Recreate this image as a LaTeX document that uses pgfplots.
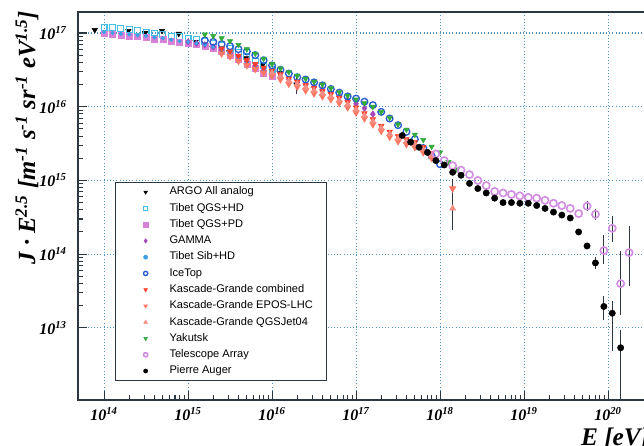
\documentclass[border=0pt]{standalone}
\usepackage{pgfplots}
\pgfplotsset{compat=1.18}
\usepackage{fontspec}
\setmainfont{Liberation Serif}
\newfontfamily\legfont{Liberation Sans}

\definecolor{axisgray}{RGB}{45,55,65}
\definecolor{gridblue}{RGB}{80,145,190}
\definecolor{tibhd}{RGB}{70,190,230}
\definecolor{tibpd}{RGB}{215,130,215}
\definecolor{gammac}{RGB}{165,70,185}
\definecolor{tibsib}{RGB}{60,160,230}
\definecolor{icetop}{RGB}{40,90,210}
\definecolor{kgcomb}{RGB}{255,60,40}
\definecolor{kgepos}{RGB}{255,120,100}
\definecolor{kgqgs}{RGB}{245,140,130}
\definecolor{yak}{RGB}{50,170,60}
\definecolor{tac}{RGB}{210,140,225}

\pgfplotsset{
  errs/.style={forget plot, error bars/.cd, y dir=both, y explicit,
      error bar style={axisgray, line width=0.7pt},
      error mark options={axisgray, mark size=1.6pt, line width=0.7pt}},
  argostyle/.style={only marks, mark=triangle*, mark size=2.3pt, black, mark options={rotate=180, line width=0.4pt}},
  eposstyle/.style={only marks, mark=triangle*, mark size=2.8pt, kgepos, mark options={rotate=180, line width=0.4pt}},
  tastyle/.style={only marks, mark=o, mark size=2.7pt, tac, mark options={line width=1.2pt}},
  augerstyle/.style={only marks, mark=*, mark size=2.4pt, black, mark options={line width=0.3pt}},
}

\begin{document}
\begin{tikzpicture}
\begin{axis}[
    at={(0,0)}, anchor=south west,
    scale only axis, width=426pt, height=291pt,
    xmode=log, ymode=log,
    xmin=4.9e13, xmax=2.83e20,
    ymin=1.05e12, ymax=1.93e17,
    xtick={1e14,1e15,1e16,1e17,1e18,1e19,1e20},
    xticklabels={10\textsuperscript{14},10\textsuperscript{15},10\textsuperscript{16},10\textsuperscript{17},10\textsuperscript{18},10\textsuperscript{19},10\textsuperscript{20}},
    ytick={1e13,1e14,1e15,1e16,1e17},
    yticklabels={10\textsuperscript{13},10\textsuperscript{14},10\textsuperscript{15},10\textsuperscript{16},10\textsuperscript{17}},
    xtick pos=left, ytick pos=left, tick align=inside,
    grid=major,
    major grid style={gridblue, dotted, line width=0.8pt},
    axis line style={axisgray, line width=1.2pt},
    tick style={axisgray, line width=0.8pt},
    major tick length=6.5pt, minor tick length=4pt,
    ticklabel style={font=\bfseries\itshape\fontsize{12}{14}\selectfont},
    yticklabel style={xshift=-5pt},
    xticklabel style={yshift=-2pt},
    xlabel={\bfseries\itshape E [eV]},
    xlabel style={at={(axis description cs:1,0)}, anchor=north east, yshift=-17.5pt, xshift=6pt, font=\fontsize{19}{23}\selectfont},
    ylabel={\bfseries\itshape J · E\textsuperscript{2.5} [m\textsuperscript{-1} s\textsuperscript{-1} sr\textsuperscript{-1} eV\textsuperscript{1.5}]},
    ylabel style={at={(axis description cs:-0.090,1.015)}, anchor=east, font=\fontsize{18.5}{22}\selectfont},
    legend cell align=left,
    legend style={
        at={(axis description cs:0.0651,0.5619)}, anchor=north west,
        draw=axisgray, line width=1pt, fill=white,
        font=\legfont\fontsize{8.3}{10}\selectfont,
        inner xsep=20.9pt, inner ysep=1pt, row sep=0pt,
        nodes={inner ysep=2.2pt, text height=6pt, text depth=1.8pt},
        /tikz/every odd column/.append style={column sep=14.3pt},
    },
    legend image post style={mark size=1.6pt},
  ]

  % ARGO
  \addplot[argostyle] coordinates {
      (7.76e13,1.10e17) (1.23e14,1.02e17) (1.95e14,1.07e17) (3.09e14,1.00e17) (4.90e14,1.07e17)
      (7.76e14,9.77e16) (1.23e15,7.59e16) (1.95e15,6.31e16) (3.09e15,5.50e16) (4.90e15,4.57e16)
      (7.76e15,3.72e16) (1.23e16,2.88e16)
    };
  \addlegendentry{ARGO All analog}
  \addplot[argostyle, errs] coordinates {
      (1.95e16,2.00e16) += (0,0.40e16) -= (0,0.42e16)
    };

  % Tibet QGS+HD
  \addplot[only marks, mark=square, mark size=2.2pt, tibhd, mark options={line width=0.8pt}] coordinates {
      (1e14,1.202e17) (1.259e14,1.175e17) (1.585e14,1.148e17) (1.995e14,1.122e17) (2.512e14,1.072e17)
      (3.162e14,1.023e17) (3.981e14,1.000e17) (5.012e14,9.55e16) (6.310e14,9.12e16) (7.943e14,8.91e16)
      (1e15,8.51e16) (1.259e15,8.13e16) (1.585e15,7.76e16) (1.995e15,7.24e16) (2.512e15,6.76e16)
      (3.162e15,6.17e16) (3.981e15,5.50e16) (5.012e15,4.79e16) (6.310e15,4.17e16) (7.943e15,3.63e16)
      (1e16,3.24e16)
    };
  \addlegendentry{Tibet QGS+HD}

  % Tibet QGS+PD
  \addplot[only marks, mark=square*, mark size=2.2pt, tibpd, mark options={line width=0.4pt}] coordinates {
      (1e14,9.77e16) (1.259e14,9.55e16) (1.585e14,9.33e16) (1.995e14,9.12e16) (2.512e14,8.91e16)
      (3.162e14,8.71e16) (3.981e14,8.32e16) (5.012e14,8.13e16) (6.310e14,7.76e16) (7.943e14,7.41e16)
      (1e15,7.24e16) (1.259e15,6.92e16) (1.585e15,6.61e16) (1.995e15,6.17e16) (2.512e15,5.62e16)
      (3.162e15,5.01e16) (3.981e15,4.37e16) (5.012e15,3.80e16) (6.310e15,3.31e16) (7.943e15,2.88e16)
      (1e16,2.57e16)
    };
  \addlegendentry{Tibet QGS+PD}

  % GAMMA
  \addplot[only marks, mark=diamond*, mark size=2.4pt, gammac, mark options={line width=0.4pt}] coordinates {
      (1e15,7.59e16) (1.259e15,7.24e16) (1.585e15,6.92e16) (1.995e15,6.46e16) (2.512e15,5.89e16)
      (3.162e15,5.37e16) (3.981e15,4.79e16) (5.012e15,4.17e16) (6.310e15,3.63e16) (7.943e15,3.16e16)
      (1e16,2.82e16) (1.259e16,2.57e16) (1.585e16,2.34e16) (1.995e16,2.14e16) (2.512e16,2.00e16)
      (3.162e16,1.86e16) (3.981e16,1.70e16) (5.012e16,1.55e16) (6.310e16,1.38e16) (7.943e16,1.23e16)
      (1e17,1.10e16) (1.259e17,9.55e15) (1.585e17,7.94e15)
    };
  \addlegendentry{GAMMA}

  % Tibet Sib+HD
  \addplot[only marks, mark=*, mark size=1.4pt, tibsib, mark options={line width=0.3pt}] coordinates {
      (1e14,1.023e17) (1.259e14,1.000e17) (1.585e14,9.77e16) (1.995e14,9.55e16) (2.512e14,9.33e16)
      (3.162e14,9.12e16) (3.981e14,8.71e16) (5.012e14,8.51e16) (6.310e14,8.13e16) (7.943e14,7.76e16)
      (1e15,7.59e16) (1.259e15,7.24e16) (1.585e15,6.92e16) (1.995e15,6.46e16) (2.512e15,5.89e16)
      (3.162e15,5.25e16) (3.981e15,4.57e16) (5.012e15,3.98e16) (6.310e15,3.47e16) (7.943e15,3.02e16)
      (1e16,2.69e16)
    };
  \addlegendentry{Tibet Sib+HD}

  % IceTop
  \addplot[only marks, mark=o, mark size=2.5pt, icetop, mark options={line width=1pt}] coordinates {
      (1.585e15,7.94e16) (1.995e15,7.59e16) (2.512e15,7.08e16) (3.162e15,6.61e16) (3.981e15,6.03e16)
      (5.012e15,5.62e16) (6.310e15,5.01e16) (7.943e15,4.27e16) (1e16,3.63e16) (1.259e16,3.16e16)
      (1.585e16,2.82e16) (1.995e16,2.51e16) (2.512e16,2.34e16) (3.162e16,2.14e16) (3.981e16,1.95e16)
      (5.012e16,1.74e16) (6.310e16,1.55e16) (7.943e16,1.38e16) (1e17,1.29e16) (1.259e17,1.17e16)
      (1.585e17,1.05e16) (1.995e17,8.51e15) (2.512e17,6.92e15) (3.162e17,5.62e15) (3.981e17,4.57e15)
      (5.012e17,3.63e15) (6.310e17,2.75e15) (7.943e17,2.14e15) (1e18,1.66e15)
    };
  \addlegendentry{IceTop}

  % Kascade-Grande combined
  \addplot[only marks, mark=triangle*, mark size=2.4pt, kgcomb, mark options={rotate=180, line width=0.4pt}] coordinates {
      (2.512e15,6.17e16) (3.162e15,5.62e16) (3.981e15,4.90e16) (5.012e15,4.27e16) (6.310e15,3.80e16)
      (7.943e15,3.39e16) (1e16,3.09e16) (1.259e16,2.75e16) (1.585e16,2.40e16) (1.995e16,2.19e16)
      (2.512e16,1.95e16) (3.162e16,1.78e16) (3.981e16,1.62e16) (5.012e16,1.48e16) (6.310e16,1.32e16)
      (7.943e16,1.15e16) (1e17,9.77e15) (1.259e17,8.13e15) (1.585e17,6.76e15) (1.995e17,5.50e15)
      (2.512e17,4.57e15) (3.162e17,3.98e15) (3.981e17,3.63e15) (5.012e17,3.31e15) (6.310e17,2.82e15)
      (7.943e17,2.34e15)
    };
  \addlegendentry{\makebox[95pt][l]{Kascade-Grande combined}}

  % Kascade-Grande EPOS-LHC
  \addplot[eposstyle] coordinates {
      (2.512e15,5.25e16) (3.162e15,4.79e16) (3.981e15,4.17e16) (5.012e15,3.63e16) (6.310e15,3.24e16)
      (7.943e15,2.88e16) (1e16,2.63e16) (1.259e16,2.34e16) (1.585e16,2.04e16) (1.995e16,1.86e16)
      (2.512e16,1.66e16) (3.162e16,1.51e16) (3.981e16,1.38e16) (5.012e16,1.26e16) (6.310e16,1.12e16)
      (7.943e16,9.77e15) (1e17,8.32e15) (1.259e17,6.92e15) (1.585e17,5.75e15) (1.995e17,4.68e15)
      (2.512e17,3.89e15) (3.162e17,3.39e15) (3.981e17,3.09e15) (5.012e17,2.82e15) (6.310e17,2.40e15)
      (7.943e17,2.00e15)
    };
  \addlegendentry{\makebox[95pt][l]{Kascade-Grande EPOS-LHC}}
  \addplot[eposstyle, errs] coordinates {
      (1.413e18,7.76e14) += (0,2.0e14) -= (0,5.47e14)
    };

  % Kascade-Grande QGSJet04
  \addplot[only marks, mark=triangle*, mark size=2.6pt, kgqgs, mark options={line width=0.4pt}] coordinates {
      (1e16,2.88e16) (1.259e16,2.57e16) (1.585e16,2.24e16) (1.995e16,2.04e16) (2.512e16,1.82e16)
      (3.162e16,1.66e16) (3.981e16,1.51e16) (5.012e16,1.38e16) (6.310e16,1.23e16) (7.943e16,1.07e16)
      (1e17,9.12e15) (1.259e17,7.59e15) (1.585e17,6.31e15) (1.995e17,5.13e15) (2.512e17,4.27e15)
      (3.162e17,3.72e15) (3.981e17,3.39e15) (5.012e17,3.09e15) (6.310e17,2.63e15) (7.943e17,2.19e15)
      (1.413e18,4.17e14)
    };
  \addlegendentry{\makebox[95pt][l]{Kascade-Grande QGSJet04}}

  % Yakutsk
  \addplot[only marks, mark=triangle*, mark size=2.3pt, yak, mark options={rotate=180, line width=0.4pt}] coordinates {
      (1.585e15,9.55e16) (1.995e15,9.12e16) (2.512e15,8.51e16) (3.162e15,7.76e16) (3.981e15,6.92e16)
      (5.012e15,6.03e16) (6.310e15,5.25e16) (7.943e15,4.47e16) (1e16,3.80e16) (1.259e16,3.31e16)
      (1.585e16,2.95e16) (1.995e16,2.63e16) (2.512e16,2.40e16) (3.162e16,2.19e16) (3.981e16,2.00e16)
      (5.012e16,1.78e16) (6.310e16,1.58e16) (7.943e16,1.41e16) (1e17,1.26e16) (1.259e17,1.12e16)
      (1.585e17,1.00e16) (1.995e17,8.51e15) (2.512e17,7.08e15) (3.162e17,5.75e15) (3.981e17,4.90e15)
      (5.012e17,4.17e15) (6.310e17,3.55e15) (7.943e17,2.88e15) (1e18,2.40e15) (1.259e18,1.78e15)
      (1.585e18,1.41e15)
    };
  \addlegendentry{Yakutsk}

  % Telescope Array
  \addplot[tastyle] coordinates {
      (8.913e17,2.29e15) (1.122e18,1.86e15) (1.413e18,1.585e15) (1.778e18,1.38e15) (2.239e18,1.20e15)
      (2.818e18,1.00e15) (3.548e18,8.51e14) (4.467e18,7.08e14) (5.623e18,6.76e14) (7.079e18,6.46e14)
      (8.913e18,6.17e14) (1.122e19,5.89e14) (1.413e19,5.75e14) (1.778e19,5.37e14) (2.239e19,4.90e14)
      (2.818e19,4.57e14) (3.548e19,4.17e14) (4.467e19,3.55e14)
    };
  \addlegendentry{Telescope Array}
  \addplot[tastyle, errs] coordinates {
      (5.623e19,4.47e14) += (0,0.40e14) -= (0,0.40e14)
      (7.079e19,3.47e14) += (0,0.35e14) -= (0,0.35e14)
      (8.913e19,1.12e14) += (0,0.58e14) -= (0,0.34e14)
      (1.122e20,2.24e14) += (0,0.85e14) -= (0,0.69e14)
      (1.413e20,3.98e13) += (0,6.2e13) -= (0,2.4e13)
      (1.778e20,1.05e14) += (0,1.19e14) -= (0,0.65e14)
    };

  % Pierre Auger
  \addplot[augerstyle] coordinates {
      (3.548e17,4.07e15) (4.467e17,3.31e15) (5.623e17,2.82e15) (7.079e17,2.40e15) (8.913e17,1.86e15)
      (1.122e18,1.62e15) (1.413e18,1.29e15) (1.778e18,1.175e15) (2.239e18,9.12e14) (2.818e18,7.76e14)
      (3.548e18,6.76e14) (4.467e18,5.75e14) (5.623e18,5.01e14) (7.079e18,5.01e14) (8.913e18,4.90e14)
      (1.122e19,4.90e14) (1.413e19,4.57e14) (1.778e19,4.17e14) (2.239e19,3.72e14) (2.818e19,3.39e14)
      (3.548e19,3.09e14) (4.467e19,2.00e14) (5.623e19,1.29e14)
    };
  \addlegendentry{Pierre Auger}
  \addplot[augerstyle, errs] coordinates {
      (7.079e19,7.59e13) += (0,0.9e13) -= (0,0.9e13)
      (8.913e19,1.95e13) += (0,0.56e13) -= (0,0.60e13)
      (1.122e20,1.58e13) += (0,0.56e13) -= (0,1.06e13)
      (1.413e20,5.37e12) += (0,3.3e12) -= (0,5.3e12)
    };
\end{axis}
\pgfresetboundingbox
\path[use as bounding box] (-58.5pt,-34.5pt) rectangle (424.5pt,300pt);
\end{tikzpicture}
\end{document}
